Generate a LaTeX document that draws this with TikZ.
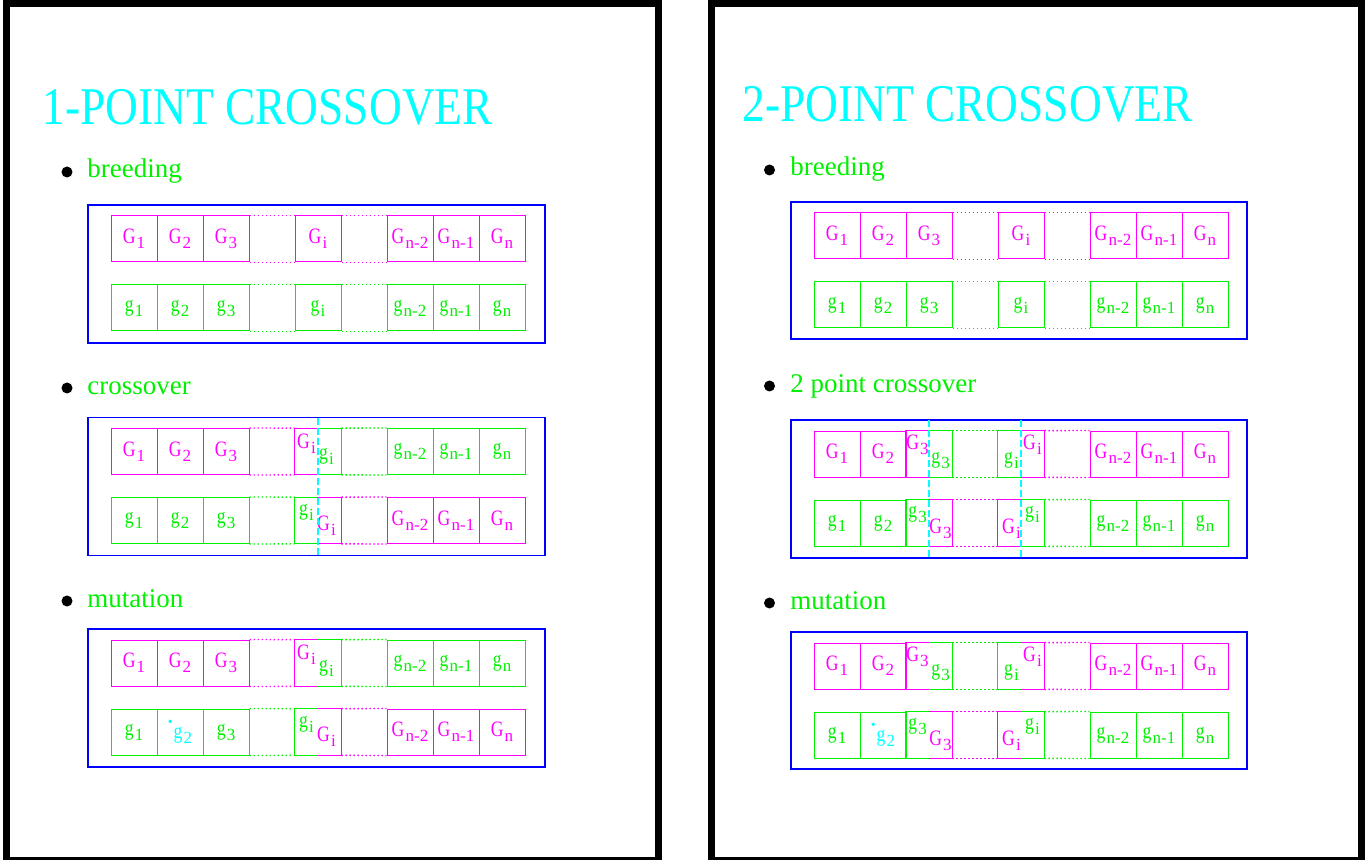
\documentclass[tikz,border=0pt]{standalone}
\usepackage{fontspec}
\setmainfont{Liberation Serif}
\usepackage{tikz}
\usetikzlibrary{positioning, calc}
\definecolor{gmag}{RGB}{255,0,255}
\definecolor{ggreen}{RGB}{0,240,0}
\definecolor{gcyan}{RGB}{0,255,255}
\definecolor{gblue}{RGB}{0,0,255}
\tikzset{
  panel/.style={draw=black, line width=3.5pt},
  frame/.style={draw=gblue, line width=0.7pt},
  gene/.style={rectangle, draw=#1, text=#1, line width=0.5pt, minimum width=23pt,
               minimum height=23pt, inner sep=0pt, font=\fontsize{11}{11}\selectfont},
  half/.style={rectangle, minimum width=11.5pt, minimum height=23pt, inner sep=0pt},
  glabel/.style={text=#1, inner sep=0pt, font=\fontsize{11}{11}\selectfont},
  cellline/.style={draw=#1, line width=0.5pt},
  gap/.style={draw=#1, line width=0.7pt, dash pattern=on 0.7pt off 1.3pt},
  cut/.style={draw=gcyan, line width=1pt, dash pattern=on 3.5pt off 1.5pt},
  title/.style={anchor=base west, text=gcyan, inner sep=0pt, font=\fontsize{26.5}{30}\selectfont},
  item/.style={anchor=base west, text=ggreen, inner sep=0pt, font=\fontsize{13.5}{16}\selectfont},
  dot/.style={circle, fill=black, inner sep=0pt, minimum size=5.5pt},
}
% gene label: letter and lowered index
\newcommand{\gl}[2]{\scalebox{0.8}[1]{#1}\kern0.6pt\raisebox{-2.5pt}{\fontsize{8.5}{8.5}\selectfont #2}}
\newcommand{\mut}[2]{\textcolor{gcyan}{\raisebox{6pt}{\fontsize{7}{7}\selectfont\textbullet}\kern0.5pt\gl{#1}{#2}}}
\newcommand{\gap}[3]{\draw[gap=#3] (#1.north east) -- (#2.north west) (#1.south east) -- (#2.south west);}
\newcommand{\lefthalf}[5]{%
  \node[half, label={[glabel=#3,#5]center:#4}] (#1) at (#2) {};
  \draw[cellline=#3] (#1.north east) -- (#1.north west) -- (#1.south west) -- (#1.south east);}
\newcommand{\righthalf}[5]{%
  \node[half, label={[glabel=#3,#5]center:#4}] (#1) at (#2) {};
  \draw[cellline=#3] (#1.north west) -- (#1.north east) -- (#1.south east) -- (#1.south west);}
% plain chromosome: prefix, y, colour, letter
\newcommand{\plainrow}[4]{%
  \foreach \k/\s in {0/1,1/2,2/3,4/i,6/n-2,7/n-1,8/n}
    \node[gene=#3] (#1c\k) at (23+46*\k,#2) {\gl{#4}{\s}};
  \gap{#1c2}{#1c4}{#3} \gap{#1c4}{#1c6}{#3}}
% one cut point: prefix, y, own colour, own letter, other colour, other letter, second gene
\newcommand{\onexrow}[7]{%
  \node[gene=#3] (#1c0) at (23,#2) {\gl{#4}{1}};
  \node[gene=#3] (#1c1) at (69,#2) {#7};
  \node[gene=#3] (#1c2) at (115,#2) {\gl{#4}{3}};
  \lefthalf{#1h1}{195.5,#2}{#3}{\gl{#4}{i}}{yshift=4pt}
  \righthalf{#1h2}{218.5,#2}{#5}{\gl{#6}{i}}{yshift=-2.5pt,xshift=-1.5pt}
  \foreach \k/\s in {6/n-2,7/n-1,8/n}
    \node[gene=#5] (#1c\k) at (23+46*\k,#2) {\gl{#6}{\s}};
  \gap{#1c2}{#1h1}{#3} \gap{#1h2}{#1c6}{#5}}
% two cut points
\newcommand{\twoxrow}[7]{%
  \node[gene=#3] (#1c0) at (23,#2) {\gl{#4}{1}};
  \node[gene=#3] (#1c1) at (69,#2) {#7};
  \lefthalf{#1h1}{103.5,#2}{#3}{\gl{#4}{3}}{yshift=4.5pt}
  \righthalf{#1h2}{126.5,#2}{#5}{\gl{#6}{3}}{yshift=-3pt}
  \lefthalf{#1h3}{195.5,#2}{#5}{\gl{#6}{i}}{yshift=-3pt,xshift=1pt}
  \righthalf{#1h4}{218.5,#2}{#3}{\gl{#4}{i}}{yshift=4.5pt}
  \foreach \k/\s in {6/n-2,7/n-1,8/n}
    \node[gene=#3] (#1c\k) at (23+46*\k,#2) {\gl{#4}{\s}};
  \gap{#1h2}{#1h3}{#5} \gap{#1h4}{#1c6}{#3}}

\begin{document}
\begin{tikzpicture}[x=0.5pt,y=-0.5pt]
\useasboundingbox (0,0) rectangle (1368,860);
\clip (0,0) rectangle (1368,860);
\draw[panel] (6.5,4) rectangle (658.5,860);
\draw[panel] (711,4) rectangle (1361.5,860);

% left page
\node[title] (tl) at (42,125) {\scalebox{0.857}[1]{1-POINT CROSSOVER}};
\node[dot] (dl1) at (67,172) {};
\node[item] (il1) at (87,178) {breeding};
\node[dot] (dl2) at (67,388) {};
\node[item] (il2) at (87,394) {crossover};
\node[dot] (dl3) at (67,601) {};
\node[item] (il3) at (87,607) {mutation};

\begin{scope}[shift={(111,216)}]
\coordinate (A1nw) at (-23,-11); \coordinate (A1se) at (434,127);
\draw[frame] (A1nw) rectangle (A1se);
\plainrow{A1r1}{23}{gmag}{G}
\plainrow{A1r2}{92}{ggreen}{g}
\end{scope}

\begin{scope}[shift={(111,428.5)}]
\coordinate (A2nw) at (-23,-11); \coordinate (A2se) at (434,127);
\draw[frame] (A2nw) rectangle (A2se);
\onexrow{A2r1}{23}{gmag}{G}{ggreen}{g}{\gl{G}{2}}
\onexrow{A2r2}{92}{ggreen}{g}{gmag}{G}{\gl{g}{2}}
\draw[cut] (A2r1h1.east |- A2nw) -- (A2r1h1.east |- A2se);
\end{scope}

\begin{scope}[shift={(111,640)}]
\coordinate (A3nw) at (-23,-11); \coordinate (A3se) at (434,127);
\draw[frame] (A3nw) rectangle (A3se);
\onexrow{A3r1}{23}{gmag}{G}{ggreen}{g}{\gl{G}{2}}
\onexrow{A3r2}{92}{ggreen}{g}{gmag}{G}{\mut{g}{2}}
\end{scope}

% right page
\node[title] (tr) at (742,122) {\scalebox{0.857}[1]{2-POINT CROSSOVER}};
\node[dot] (dr1) at (769.5,170) {};
\node[item] (ir1) at (790,176) {breeding};
\node[dot] (dr2) at (769.5,386) {};
\node[item] (ir2) at (790,393) {2 point crossover};
\node[dot] (dr3) at (769.5,603) {};
\node[item] (ir3) at (790,609) {mutation};

\begin{scope}[shift={(814,213)}]
\coordinate (B1nw) at (-23,-11); \coordinate (B1se) at (433,126);
\draw[frame] (B1nw) rectangle (B1se);
\plainrow{B1r1}{23}{gmag}{G}
\plainrow{B1r2}{92}{ggreen}{g}
\end{scope}

\begin{scope}[shift={(814,431)}]
\coordinate (B2nw) at (-23,-11); \coordinate (B2se) at (433,127);
\draw[frame] (B2nw) rectangle (B2se);
\twoxrow{B2r1}{23}{gmag}{G}{ggreen}{g}{\gl{G}{2}}
\twoxrow{B2r2}{92}{ggreen}{g}{gmag}{G}{\gl{g}{2}}
\draw[cut] (B2r1h1.east |- B2nw) -- (B2r1h1.east |- B2se);
\draw[cut] (B2r1h3.east |- B2nw) -- (B2r1h3.east |- B2se);
\end{scope}

\begin{scope}[shift={(814,643)}]
\coordinate (B3nw) at (-23,-11); \coordinate (B3se) at (433,126);
\draw[frame] (B3nw) rectangle (B3se);
\twoxrow{B3r1}{23}{gmag}{G}{ggreen}{g}{\gl{G}{2}}
\twoxrow{B3r2}{92}{ggreen}{g}{gmag}{G}{\mut{g}{2}}
\end{scope}
\end{tikzpicture}
\end{document}
